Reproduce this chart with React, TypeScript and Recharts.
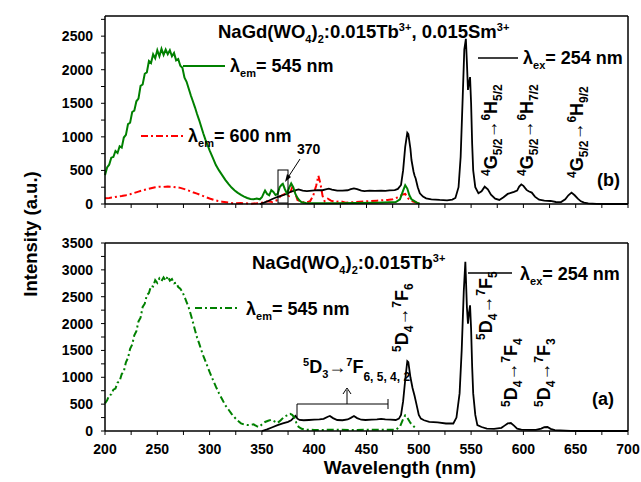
import { ComposedChart, Line, XAxis, YAxis } from 'recharts'

// wavelength (nm), intensity (a.u.)
const excB545: [number, number][] = [
    [200, 430], [202, 545], [204, 585], [206, 690], [208, 700], [210, 790], [212, 760], [214, 860],
    [216, 840], [218, 990], [220, 1030], [222, 1190], [224, 1210], [226, 1370], [228, 1390], [230, 1530],
    [232, 1570], [234, 1760], [236, 1780], [238, 1940], [240, 1960], [242, 2130], [244, 2100], [246, 2230],
    [248, 2170], [250, 2290], [252, 2200], [254, 2310], [256, 2220], [258, 2300], [260, 2230], [262, 2290],
    [264, 2200], [266, 2250], [268, 2140], [270, 2160], [272, 2060], [274, 2030], [276, 1880], [278, 1820],
    [280, 1720], [282, 1620], [284, 1530], [286, 1440], [288, 1340], [290, 1250], [292, 1150], [294, 1050],
    [296, 960], [298, 880], [300, 800], [303, 690], [306, 580], [309, 500], [312, 430], [315, 360],
    [318, 300], [321, 245], [324, 200], [327, 165], [330, 135], [333, 110], [336, 90], [339, 75],
    [342, 70], [345, 80], [348, 70], [350, 100], [352, 170], [353, 200], [355, 150], [357, 130],
    [359, 205], [361, 180], [363, 134], [365, 150], [367, 250], [369, 290], [370, 300], [372, 220],
    [374, 155], [376, 240], [378, 305], [380, 250], [382, 150], [384, 90], [386, 50], [388, 25],
    [392, 15], [400, 10], [420, 12], [440, 15], [460, 20], [478, 30], [482, 70], [485, 200],
    [487, 280], [489, 230], [491, 130], [493, 70], [495, 50], [498, 20], [501, 5],
]

const excB600: [number, number][] = [
    [200, 84], [204, 90], [208, 100], [212, 110], [216, 119], [220, 130], [224, 145], [228, 165],
    [232, 185], [236, 205], [240, 220], [244, 235], [248, 250], [252, 258], [256, 255], [260, 260],
    [264, 258], [268, 250], [272, 240], [276, 222], [280, 200], [284, 175], [288, 155], [292, 130],
    [296, 105], [300, 82], [304, 62], [308, 45], [312, 35], [316, 25], [320, 15], [325, 10],
    [330, 15], [335, 10], [340, 5], [345, 10], [350, 20], [355, 40], [360, 30], [365, 60],
    [368, 120], [372, 150], [376, 120], [379, 250], [381, 200], [384, 60], [388, 30], [392, 20],
    [396, 40], [399, 120], [402, 280], [404, 420], [406, 300], [408, 120], [410, 40], [413, 80],
    [416, 50], [420, 30], [425, 40], [430, 20], [440, 30], [450, 40], [460, 50], [470, 60],
    [475, 70], [480, 100], [484, 140], [487, 150], [490, 80], [494, 40], [500, 10],
]

const emB254: [number, number][] = [
    [348, 0], [352, 20], [356, 45], [360, 75], [364, 100], [368, 120], [371, 134], [375, 160],
    [378, 185], [381, 200], [385, 218], [389, 200], [393, 193], [398, 200], [403, 208], [408, 205],
    [411, 218], [414, 228], [417, 215], [422, 198], [427, 200], [432, 205], [435, 220], [438, 233],
    [441, 222], [445, 200], [448, 193], [453, 198], [458, 195], [464, 198], [468, 196], [472, 203],
    [477, 208], [480, 225], [483, 283], [485, 500], [487, 850], [489, 1060], [490, 1040], [492, 820],
    [493, 655], [495, 480], [496, 420], [497, 380], [499, 250], [501, 159], [504, 110], [507, 84],
    [512, 70], [520, 60], [527, 55], [532, 65], [535, 90], [538, 250], [540, 700], [542, 1600],
    [543.5, 2300], [545, 2460], [546, 2100], [547, 1700], [548, 1800], [549, 1890], [550, 1500], [551, 900],
    [552, 500], [554, 250], [557, 160], [560, 190], [563, 258], [566, 220], [569, 140], [573, 80],
    [577, 60], [581, 100], [585, 150], [588, 165], [591, 180], [594, 200], [596, 260], [598, 293],
    [600, 270], [603, 210], [605, 190], [608, 170], [611, 110], [615, 65], [620, 50], [626, 45],
    [631, 30], [636, 28], [640, 70], [643, 130], [646, 169], [649, 130], [652, 80], [655, 40],
    [658, 20], [662, 8], [670, 3], [680, 0], [700, 0],
]

const excA545: [number, number][] = [
    [200, 514], [202, 570], [204, 670], [206, 680], [208, 770], [210, 790], [212, 900], [214, 930],
    [216, 1060], [218, 1110], [220, 1280], [222, 1360], [224, 1530], [226, 1610], [228, 1780], [230, 1860],
    [232, 2040], [234, 2110], [236, 2310], [238, 2370], [240, 2530], [242, 2570], [244, 2700], [246, 2690],
    [248, 2810], [250, 2760], [252, 2840], [254, 2790], [256, 2860], [258, 2800], [260, 2880], [262, 2800],
    [264, 2830], [266, 2750], [268, 2760], [270, 2680], [272, 2650], [274, 2590], [276, 2500], [278, 2400],
    [280, 2300], [282, 2170], [284, 2030], [286, 1880], [288, 1740], [290, 1630], [292, 1510], [294, 1400],
    [296, 1300], [298, 1200], [300, 1100], [303, 960], [306, 826], [309, 700], [312, 590], [315, 480],
    [318, 400], [321, 320], [324, 250], [327, 190], [330, 143], [333, 120], [336, 112], [339, 115],
    [342, 124], [345, 90], [347, 74], [350, 120], [353, 168], [356, 190], [359, 210], [362, 180],
    [365, 150], [368, 200], [371, 260], [374, 290], [377, 320], [379, 300], [381, 250], [383, 150],
    [385, 80], [388, 40], [392, 25], [400, 20], [420, 22], [440, 20], [460, 25], [478, 25],
    [482, 80], [485, 220], [487, 290], [489, 250], [492, 150], [494, 110], [497, 50],
]

const emA254: [number, number][] = [
    [350, 0], [355, 30], [360, 70], [365, 110], [370, 140], [375, 170], [378, 200], [380, 240],
    [382, 280], [384, 230], [386, 205], [390, 200], [395, 205], [400, 210], [405, 215], [409, 225],
    [413, 265], [415, 279], [418, 240], [422, 205], [427, 200], [432, 215], [435, 245], [438, 279],
    [441, 240], [445, 210], [449, 205], [455, 210], [460, 215], [464, 224], [468, 215], [473, 210],
    [478, 205], [481, 230], [483, 300], [485, 550], [487, 950], [489, 1300], [490, 1280], [492, 1000],
    [494, 800], [496, 650], [498, 478], [500, 300], [502, 230], [505, 200], [510, 170], [518, 160],
    [526, 140], [533, 140], [536, 250], [539, 700], [541, 1500], [543, 2600], [544.5, 3150], [546, 2300],
    [547, 2000], [548, 2200], [549, 2340], [550, 1900], [551, 1200], [552, 700], [554, 300], [556, 110],
    [560, 74], [565, 43], [572, 40], [579, 60], [582, 100], [585, 140], [588, 149], [591, 100],
    [594, 45], [598, 25], [605, 20], [612, 20], [617, 45], [620, 70], [623, 74], [626, 40],
    [630, 15], [635, 12], [645, 3], [655, 0], [700, 0],
]

const xTicks = [200, 225, 250, 275, 300, 325, 350, 375, 400, 425, 450, 475, 500, 525, 550, 575, 600, 625, 650, 675, 700]
const yTicksB = [0, 250, 500, 750, 1000, 1250, 1500, 1750, 2000, 2250, 2500, 2750]
const yTicksA = [0, 250, 500, 750, 1000, 1250, 1500, 1750, 2000, 2250, 2500, 2750, 3000, 3250, 3500]

const GREEN = '#008000'
const RED = '#ff0000'
const FONT = '"Liberation Sans", Arial, sans-serif'
const DASHDOT = '7 3 2 3'

const pts = (a: [number, number][]) => a.map(([x, y]) => ({ x, y }))
const major50 = (v: number) => (v % 50 === 0 ? String(v) : '')
const major500 = (v: number) => (v % 500 === 0 ? String(v) : '')
const blank = () => ''

const tickFont = { fontSize: 14, fontWeight: 700, fill: '#000', fontFamily: FONT }
const axisLine = { stroke: '#000', strokeWidth: 1.5 }

function Panel({ top, height, marginTop, marginBottom, yMax, yTicks, showX, children }: any) {
    return (
        <div style={{ position: 'absolute', left: 0, top }}>
            <ComposedChart width={641} height={height} margin={{ top: marginTop, right: 0, bottom: marginBottom, left: 45 }}>
                <XAxis xAxisId="top" orientation="top" dataKey="x" type="number" domain={[200, 700]} height={1}
                    tick={false} tickLine={false} axisLine={axisLine} />
                <XAxis dataKey="x" type="number" domain={[200, 700]} ticks={xTicks} interval={0}
                    tickFormatter={showX ? major50 : blank} tickSize={4} tickMargin={9} height={showX ? 30 : 16}
                    tick={tickFont} axisLine={axisLine} tickLine={{ stroke: '#000' }} />
                <YAxis domain={[0, yMax]} ticks={yTicks} interval={0} tickFormatter={major500} tickSize={4}
                    tickMargin={8} width={60} tick={tickFont} axisLine={axisLine} tickLine={{ stroke: '#000' }} />
                <YAxis yAxisId="r" orientation="right" domain={[0, yMax]} ticks={yTicks} interval={0}
                    tickFormatter={blank} tickSize={3} width={13} axisLine={axisLine} tickLine={{ stroke: '#000' }} />
                {children}
            </ComposedChart>
        </div>
    )
}

const sub = (t: string, d = 5) => <tspan dy={d} fontSize={11}>{t}</tspan>

function Rot({ x, y, up, low, mid, up2, big2, low2, size = 18 }: any) {
    return (
        <text transform={`translate(${x},${y}) rotate(-90)`} fontSize={size} fontWeight={700} fontFamily={FONT}>
            <tspan dy={-7} fontSize={12}>{up}</tspan>
            <tspan dy={7}>{mid}</tspan>
            <tspan dy={5} fontSize={12}>{low}</tspan>
            <tspan dy={-5} fontWeight={400}>→</tspan>
            <tspan dy={-7} fontSize={12}>{up2}</tspan>
            <tspan dy={7}>{big2}</tspan>
            <tspan dy={5} fontSize={12}>{low2}</tspan>
        </text>
    )
}

function Overlay() {
    const t = { fontSize: 18, fontWeight: 700, fontFamily: FONT, fill: '#000' }
    return (
        <svg width={641} height={482} style={{ position: 'absolute', left: 0, top: 0, pointerEvents: 'none' }}>
            {/* panel b */}
            <text x={218} y={38} {...t} fontSize={18.5}>
                NaGd(WO{sub('4')}<tspan dy={-5}>)</tspan>{sub('2')}<tspan dy={-5}>:0.015Tb</tspan>
                <tspan dy={-7} fontSize={11}>3+</tspan><tspan dy={7}>, 0.015Sm</tspan>
                <tspan dy={-7} fontSize={11}>3+</tspan>
            </text>
            <line x1={183} y1={66} x2={225} y2={66} stroke={GREEN} strokeWidth={2} />
            <text x={230} y={72} {...t}>λ{sub('em')}<tspan dy={-5}>= 545 nm</tspan></text>
            <line x1={141} y1={136} x2={185} y2={136} stroke={RED} strokeWidth={2} strokeDasharray={DASHDOT} />
            <text x={188} y={142} {...t}>λ{sub('em')}<tspan dy={-5}>= 600 nm</tspan></text>
            <line x1={478} y1={58} x2={518} y2={58} stroke="#000" strokeWidth={1.5} />
            <text x={523} y={64} {...t}>λ{sub('ex')}<tspan dy={-5}>= 254 nm</tspan></text>
            <text x={297} y={154} fontSize={14} fontWeight={700} fontFamily={FONT}>370</text>
            <rect x={278} y={170} width={10} height={33} fill="none" stroke="#000" strokeWidth={1} />
            <line x1={300} y1={159} x2={287} y2={179} stroke="#000" strokeWidth={1} />
            <polygon points="285,182 287,174 291,177" fill="#000" />
            <Rot x={497} y={176} up="4" mid="G" low="5/2" up2="6" big2="H" low2="5/2" />
            <Rot x={533} y={176} up="4" mid="G" low="5/2" up2="6" big2="H" low2="7/2" />
            <Rot x={583} y={178} up="4" mid="G" low="5/2" up2="6" big2="H" low2="9/2" />
            <text x={597} y={186} {...t}>(b)</text>

            {/* panel a */}
            <text x={252} y={269} {...t} fontSize={18.5}>
                NaGd(WO{sub('4')}<tspan dy={-5}>)</tspan>{sub('2')}<tspan dy={-5}>:0.015Tb</tspan>
                <tspan dy={-7} fontSize={11}>3+</tspan>
            </text>
            <line x1={195} y1={308} x2={238} y2={308} stroke={GREEN} strokeWidth={2} strokeDasharray={DASHDOT} />
            <text x={246} y={315} {...t}>λ{sub('em')}<tspan dy={-5}>= 545 nm</tspan></text>
            <line x1={468} y1={273} x2={512} y2={273} stroke="#000" strokeWidth={1.5} />
            <text x={520} y={280} {...t}>λ{sub('ex')}<tspan dy={-5}>= 254 nm</tspan></text>
            <Rot x={408} y={352} up="5" mid="D" low="4" up2="7" big2="F" low2="6" />
            <Rot x={492} y={340} up="5" mid="D" low="4" up2="7" big2="F" low2="5" />
            <Rot x={517} y={407} up="5" mid="D" low="4" up2="7" big2="F" low2="4" />
            <Rot x={550} y={407} up="5" mid="D" low="4" up2="7" big2="F" low2="3" />
            <text x={303} y={373} {...t}>
                <tspan dy={-7} fontSize={11}>5</tspan><tspan dy={7}>D</tspan>{sub('3')}
                <tspan dy={-5} fontWeight={400}>→</tspan><tspan dy={-7} fontSize={11}>7</tspan>
                <tspan dy={7}>F</tspan><tspan dy={8} fontSize={12}>6, 5, 4, 2</tspan>
            </text>
            <polyline points="297,417 297,404 388,404" fill="none" stroke="#000" strokeWidth={1} />
            <line x1={388} y1={399} x2={388} y2={409} stroke="#000" strokeWidth={1} />
            <line x1={347} y1={404} x2={347} y2={390} stroke="#000" strokeWidth={1} />
            <polyline points="343,394 347,388 351,394" fill="none" stroke="#000" strokeWidth={1} />
            <text x={592} y={405} {...t}>(a)</text>

            {/* axis titles */}
            <text transform="translate(37,234) rotate(-90)" textAnchor="middle" fontSize={18.5} fontWeight={700} fontFamily={FONT}>
                Intensity (a.u.)
            </text>
            <text x={400} y={474} textAnchor="middle" fontSize={19} fontWeight={700} fontFamily={FONT}>
                Wavelength (nm)
            </text>
        </svg>
    )
}

export default function App() {
    return (
        <div style={{ position: 'absolute', left: 0, top: 0, width: 641, height: 482, background: '#fff' }}>
            <Panel top={0} height={220} marginTop={15} marginBottom={0} yMax={2800} yTicks={yTicksB} showX={false}>
                <Line data={pts(excB600)} dataKey="y" stroke={RED} strokeWidth={2} strokeDasharray={DASHDOT} dot={false} isAnimationActive={false} />
                <Line data={pts(emB254)} dataKey="y" stroke="#000" strokeWidth={1.8} dot={false} isAnimationActive={false} />
                <Line data={pts(excB545)} dataKey="y" stroke={GREEN} strokeWidth={2} dot={false} isAnimationActive={false} />
            </Panel>
            <Panel top={220} height={262} marginTop={22} marginBottom={21} yMax={3500} yTicks={yTicksA} showX={true}>
                <Line data={pts(emA254)} dataKey="y" stroke="#000" strokeWidth={1.8} dot={false} isAnimationActive={false} />
                <Line data={pts(excA545)} dataKey="y" stroke={GREEN} strokeWidth={2} strokeDasharray={DASHDOT} dot={false} isAnimationActive={false} />
            </Panel>
            <Overlay />
        </div>
    )
}
